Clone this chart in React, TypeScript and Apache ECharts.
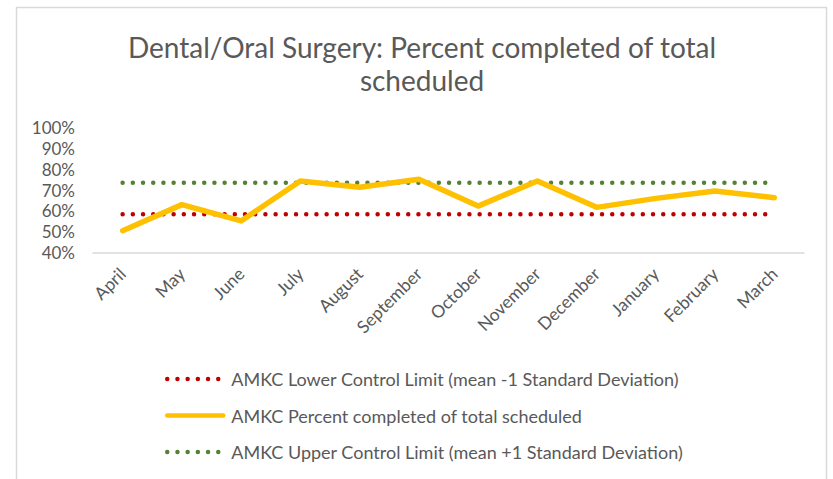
import React, { useEffect, useRef } from "react";
import * as echarts from "echarts";

const months = ["April", "May", "June", "July", "August", "September", "October", "November", "December", "January", "February", "March"];
const percentCompleted = [50.5, 63.0, 55.2, 74.3, 71.3, 75.1, 62.3, 74.3, 61.7, 66.0, 69.5, 66.3];
const lowerLimitValue = 58.4;
const upperLimitValue = 73.5;
const lowerLimit = months.map(() => lowerLimitValue);
const upperLimit = months.map(() => upperLimitValue);
const yTicks = { min: 40, max: 100, interval: 10 };

const titleText = "Dental/Oral Surgery: Percent completed of total\nscheduled";
const seriesNames = [
  "AMKC Lower Control Limit (mean -1 Standard Deviation)",
  "AMKC Percent completed of total scheduled",
  "AMKC Upper Control Limit (mean +1 Standard Deviation)",
];

const FONT = "Lato, 'Open Sans', sans-serif";
const GRAY = "#595959";
const RED = "#C00000";
const GREEN = "#548235";
const YELLOW = "#FFC000";

export default function App() {
  const ref = useRef<HTMLDivElement>(null);
  useEffect(() => {
    if (!ref.current) return;
    const chart = echarts.init(ref.current, undefined, { renderer: "svg" });
    const dotted = (color: string) => ({
      color,
      width: 4.5,
      type: [0, 10.2] as any,
      cap: "round" as const,
    });
    chart.setOption({
      animation: false,
      backgroundColor: "#ffffff",
      textStyle: { fontFamily: FONT },
      title: {
        text: titleText,
        left: 422,
        textAlign: "center",
        top: 30,
        padding: 0,
        textStyle: { fontFamily: FONT, fontSize: 28, fontWeight: "normal", color: GRAY, lineHeight: 33 },
      },
      graphic: [
        {
          type: "rect",
          shape: { x: 16.5, y: 7.5, width: 810, height: 480 },
          style: { fill: "none", stroke: "#d9d9d9", lineWidth: 1.5 },
          silent: true,
        },
      ],
      legend: {
        orient: "vertical",
        left: 165,
        top: 370,
        itemWidth: 56,
        itemHeight: 14,
        itemGap: 18.5,
        padding: 0,
        textStyle: { fontFamily: FONT, fontSize: 18, color: GRAY, padding: [0, 0, 0, 3] },
        itemStyle: { opacity: 0 },
        data: [
          { name: seriesNames[0], lineStyle: { width: 4.5 } },
          { name: seriesNames[1], lineStyle: { width: 4.5 } },
          { name: seriesNames[2], lineStyle: { width: 4.5 } },
        ],
      },
      grid: { left: 93, right: 29, top: 127.3, bottom: 226.3, containLabel: false },
      xAxis: {
        type: "category",
        data: months,
        boundaryGap: true,
        axisLine: { lineStyle: { color: "#d9d9d9", width: 1.5 } },
        axisTick: { show: false },
        axisLabel: { rotate: 45, interval: 0, margin: 18, fontFamily: FONT, fontSize: 17.5, color: GRAY },
      },
      yAxis: {
        type: "value",
        min: yTicks.min,
        max: yTicks.max,
        interval: yTicks.interval,
        axisLine: { show: false },
        axisTick: { show: false },
        splitLine: { show: false },
        axisLabel: { formatter: "{value}%", margin: 18, fontFamily: FONT, fontSize: 17, color: GRAY },
      },
      series: [
        {
          name: seriesNames[0],
          type: "line",
          data: lowerLimit,
          symbol: "none",
          lineStyle: dotted(RED),
          itemStyle: { color: RED },
          z: 2,
        },
        {
          name: seriesNames[1],
          type: "line",
          data: percentCompleted,
          symbol: "none",
          lineStyle: { color: YELLOW, width: 5.5, cap: "round", join: "round" },
          itemStyle: { color: YELLOW },
          z: 3,
        },
        {
          name: seriesNames[2],
          type: "line",
          data: upperLimit,
          symbol: "none",
          lineStyle: dotted(GREEN),
          itemStyle: { color: GREEN },
          z: 2,
        },
      ],
    });
    return () => chart.dispose();
  }, []);
  return <div ref={ref} style={{ position: "fixed", left: 0, top: 0, width: 833, height: 479 }} />;
}
